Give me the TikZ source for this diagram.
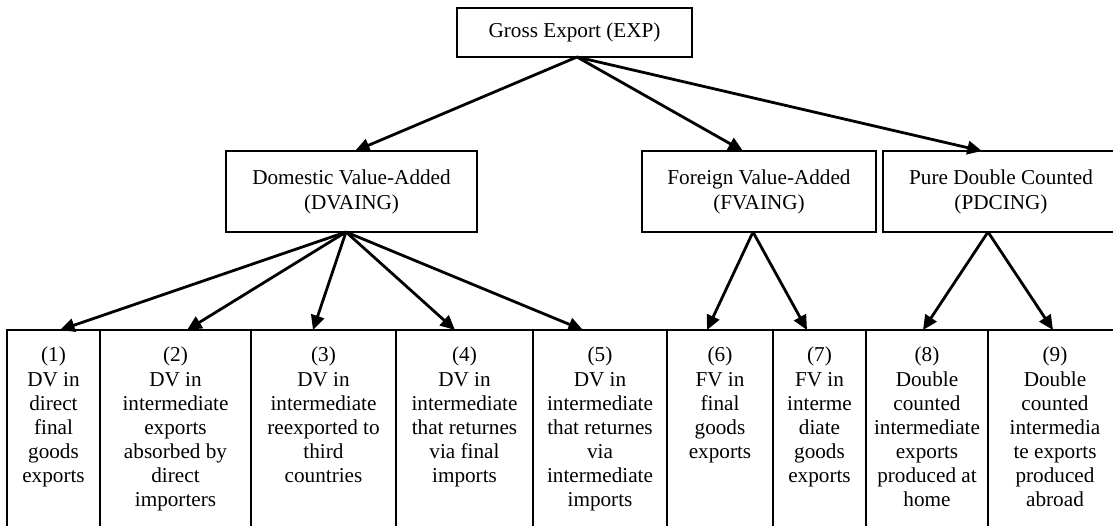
\documentclass[tikz,border=0pt]{standalone}
\usepackage{fontspec}
\setmainfont{Liberation Serif}
\usetikzlibrary{arrows.meta,calc}
\begin{document}
\begin{tikzpicture}[x=0.75pt,y=-0.75pt,
  box/.style={draw,line width=1.4pt,rectangle,inner sep=0pt,outer sep=0pt,
    align=center,font=\fontsize{15.9pt}{18.6pt}\selectfont},
  cell/.style={draw,line width=1.4pt,rectangle,inner sep=0pt,outer sep=0pt,
    minimum height=153.75pt},
  celltext/.style={anchor=north,inner sep=0pt,align=center,
    font=\fontsize{15.9pt}{18.1pt}\selectfont},
  link/.style={line width=2.1pt,-{Triangle[length=11pt,width=10pt]}}]
\useasboundingbox (0,0) rectangle (1113,525);
\clip (0,0) rectangle (1113,525);
% root
\node[box,minimum width=176.25pt,minimum height=36.75pt] (exp) at (574.5,32.5) {Gross Export (EXP)};
% second level
\node[box,minimum width=188.25pt,minimum height=60.75pt] (dva) at (351.5,191.5) {Domestic Value-Added\\(DVAING)};
\node[box,minimum width=175.5pt,minimum height=60.75pt] (fva) at (759,191.5) {Foreign Value-Added\\(FVAING)};
\node[box,minimum width=177pt,minimum height=60.75pt] (pdc) at (1001,191.5) {Pure Double Counted\\(PDCING)};
% bottom row of components
\node[cell,minimum width=69.75pt] (b1) at (53.5,432.5) {};
\node[cell,minimum width=113.25pt] (b2) at (175.5,432.5) {};
\node[cell,minimum width=108.75pt] (b3) at (323.5,432.5) {};
\node[cell,minimum width=102.75pt] (b4) at (464.5,432.5) {};
\node[cell,minimum width=100.5pt] (b5) at (600,432.5) {};
\node[cell,minimum width=79.5pt] (b6) at (720,432.5) {};
\node[cell,minimum width=69.75pt] (b7) at (819.5,432.5) {};
\node[cell,minimum width=91.5pt] (b8) at (927,432.5) {};
\node[cell,minimum width=100.5pt] (b9) at (1055,432.5) {};
\node[celltext] (t1) at ($(b1.north)+(0,17)$) {(1)\\DV in\\direct\\final\\goods\\exports};
\node[celltext] (t2) at ($(b2.north)+(0,17)$) {(2)\\DV in\\intermediate\\exports\\absorbed by\\direct\\importers};
\node[celltext] (t3) at ($(b3.north)+(0,17)$) {(3)\\DV in\\intermediate\\reexported to\\third\\countries};
\node[celltext] (t4) at ($(b4.north)+(0,17)$) {(4)\\DV in\\intermediate\\that returnes\\via final\\imports};
\node[celltext] (t5) at ($(b5.north)+(0,17)$) {(5)\\DV in\\intermediate\\that returnes\\via\\intermediate\\imports};
\node[celltext] (t6) at ($(b6.north)+(0,17)$) {(6)\\FV in\\final\\goods\\exports};
\node[celltext] (t7) at ($(b7.north)+(0,17)$) {(7)\\FV in\\interme\\diate\\goods\\exports};
\node[celltext] (t8) at ($(b8.north)+(0,17)$) {(8)\\Double\\counted\\intermediate\\exports\\produced at\\home};
\node[celltext] (t9) at ($(b9.north)+(0,17)$) {(9)\\Double\\counted\\intermedia\\te exports\\produced\\abroad};
% connectors
\coordinate (expS) at ($(exp.south)+(2.5,0)$);
\draw[link] (expS) -- ($(dva.north)+(3.5,0)$);
\draw[link] (expS) -- ($(fva.north)+(-16,0)$);
\draw[link] (expS) -- ($(pdc.north)+(-19,0)$);
\coordinate (dvaS) at ($(dva.south)+(-5.5,0)$);
\draw[link] (dvaS) -- ($(b1.north)+(6.5,0)$);
\draw[link] (dvaS) -- ($(b2.north)+(11.5,0)$);
\draw[link] (dvaS) -- ($(b3.north)+(-10.5,0)$);
\draw[link] (dvaS) -- ($(b4.north)+(-9.5,0)$);
\draw[link] (dvaS) -- ($(b5.north)+(-17,0)$);
\coordinate (fvaS) at ($(fva.south)+(-6,0)$);
\draw[link] (fvaS) -- ($(b6.north)+(-13,0)$);
\draw[link] (fvaS) -- ($(b7.north)+(-12.5,0)$);
\coordinate (pdcS) at ($(pdc.south)+(-13,0)$);
\draw[link] (pdcS) -- ($(b8.north)+(-4,0)$);
\draw[link] (pdcS) -- ($(b9.north)+(-2,0)$);
\end{tikzpicture}
\end{document}
